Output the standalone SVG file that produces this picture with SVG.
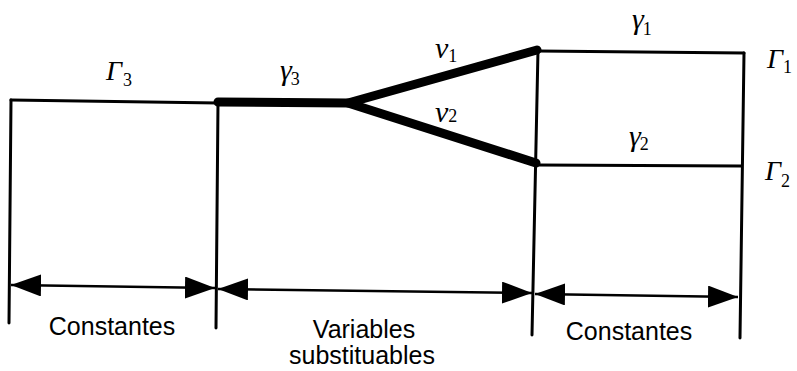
<svg xmlns="http://www.w3.org/2000/svg" width="797" height="371" viewBox="0 0 797 371">
<style>
.thin{stroke:#000;stroke-width:3;fill:none;stroke-linecap:round}
.thick{stroke:#000;stroke-width:9;fill:none;stroke-linecap:round;stroke-linejoin:round}
.dim{stroke:#000;stroke-width:2.5;fill:none}
.G{font-family:"Liberation Serif",serif;font-style:italic;font-size:28px;fill:#000}
.g{font-family:"Liberation Serif",serif;font-style:italic;font-size:30px;fill:#000}
.sub{font-family:"Liberation Serif",serif;font-size:18px;fill:#000;font-style:normal}
.lbl{font-family:"Liberation Sans",sans-serif;font-size:25px;fill:#000;text-anchor:middle}
</style>
<defs>
<marker id="ah" viewBox="0 0 30 22" refX="30" refY="11" markerWidth="30" markerHeight="22" markerUnits="userSpaceOnUse" orient="auto-start-reverse">
<path d="M0,0 L30,11 L0,22 Z" fill="#000"/>
</marker>
</defs>
<g id="frame">
<line class="thin" x1="11" y1="100" x2="9" y2="323"/>
<line class="thin" x1="11" y1="100" x2="218" y2="103"/>
<line class="thin" x1="218" y1="102" x2="216" y2="328"/>
<line class="thin" x1="538" y1="50" x2="532" y2="335"/>
<line class="thin" x1="538" y1="51" x2="744" y2="53"/>
<line class="thin" x1="744" y1="53" x2="740" y2="338"/>
<line class="thin" x1="537" y1="165" x2="741" y2="166"/>
</g>
<g id="channels">
<polyline class="thick" points="218,102 348,103 537,50"/>
<line class="thick" x1="348" y1="103" x2="536" y2="163"/>
</g>
<g id="connectors">
<line class="dim" x1="11" y1="285" x2="215" y2="288" marker-start="url(#ah)" marker-end="url(#ah)"/>
<line class="dim" x1="218" y1="289" x2="532" y2="293" marker-start="url(#ah)" marker-end="url(#ah)"/>
<line class="dim" x1="535" y1="294" x2="738" y2="297" marker-start="url(#ah)" marker-end="url(#ah)"/>
</g>
<g id="labels">
<text class="G" x="106" y="80">Γ<tspan class="sub" dx="1" dy="6">3</tspan></text>
<text class="g" x="280" y="80">γ<tspan class="sub" dx="-1" dy="5">3</tspan></text>
<text class="g" x="435" y="58">ν<tspan class="sub" dx="0" dy="4">1</tspan></text>
<text class="g" x="435" y="122">ν<tspan class="sub" dx="0" dy="0">2</tspan></text>
<text class="g" x="632" y="29">γ<tspan class="sub" dx="-1" dy="6">1</tspan></text>
<text class="g" x="629" y="146">γ<tspan class="sub" dx="-1" dy="4">2</tspan></text>
<text class="G" x="767" y="68">Γ<tspan class="sub" dx="0" dy="5">1</tspan></text>
<text class="G" x="765" y="180">Γ<tspan class="sub" dx="0" dy="7">2</tspan></text>
<text class="lbl" x="112" y="335">Constantes</text>
<text class="lbl" x="364" y="338">Variables</text>
<text class="lbl" x="362" y="364">substituables</text>
<text class="lbl" x="629" y="340">Constantes</text>
</g>
</svg>
